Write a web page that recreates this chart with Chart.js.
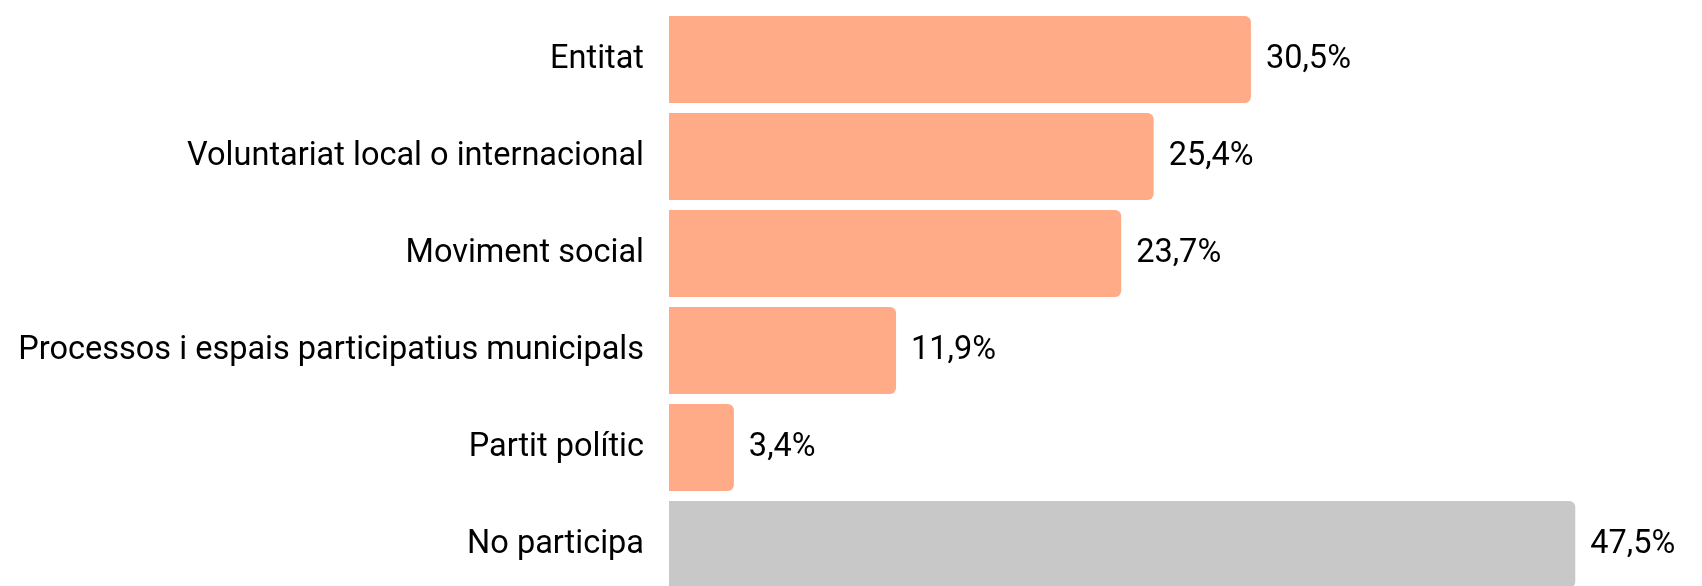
<!DOCTYPE html>
<html>
<head>
<meta charset="utf-8">
<script src="https://cdn.jsdelivr.net/npm/chart.js@4"></script>
<style>
html,body{margin:0;padding:0;background:#fff;overflow:hidden;}
canvas{display:block;}
</style>
</head>
<body>
<canvas id="c" width="1702" height="600" style="width:1702px;height:600px;"></canvas>
<script>
const categories = ["Entitat","Voluntariat local o internacional","Moviment social","Processos i espais participatius municipals","Partit polític","No participa"];
const values = [30.5, 25.4, 23.7, 11.9, 3.4, 47.5];
const valueLabels = ["30,5%","25,4%","23,7%","11,9%","3,4%","47,5%"];
const barColors = ["#FFAB88","#FFAB88","#FFAB88","#FFAB88","#FFAB88","#C8C8C8"];

const FONT = {family: "Roboto", size: 32.5};

const valuePlugin = {
  id: 'valueLabels',
  afterDatasetsDraw(chart) {
    const ctx = chart.ctx;
    const meta = chart.getDatasetMeta(0);
    ctx.save();
    ctx.font = `${FONT.size}px ${FONT.family}`;
    ctx.fillStyle = '#000';
    ctx.textAlign = 'left';
    ctx.textBaseline = 'middle';
    meta.data.forEach((bar, i) => {
      ctx.fillText(valueLabels[i], bar.x + 15, bar.y);
    });
    ctx.restore();
  }
};

new Chart(document.getElementById('c'), {
  type: 'bar',
  data: {
    labels: categories,
    datasets: [{
      data: values,
      backgroundColor: barColors,
      borderWidth: 0,
      borderRadius: {topLeft: 0, bottomLeft: 0, topRight: 6, bottomRight: 6},
      borderSkipped: false,
      categoryPercentage: 0.897,
      barPercentage: 1.0
    }]
  },
  options: {
    indexAxis: 'y',
    responsive: false,
    devicePixelRatio: 1,
    animation: false,
    layout: {padding: {top: 11, bottom: 7, right: 79, left: 0}},
    plugins: {legend: {display: false}, tooltip: {enabled: false}},
    scales: {
      x: {
        display: false,
        min: 0,
        max: 50
      },
      y: {
        grid: {display: false, drawTicks: false},
        border: {display: false},
        ticks: {color: '#000', font: FONT, padding: 25},
        afterFit(scale) { scale.width = 669; scale.paddingTop = 0; scale.paddingBottom = 0; }
      }
    }
  },
  plugins: [valuePlugin]
});
</script>
</body>
</html>
